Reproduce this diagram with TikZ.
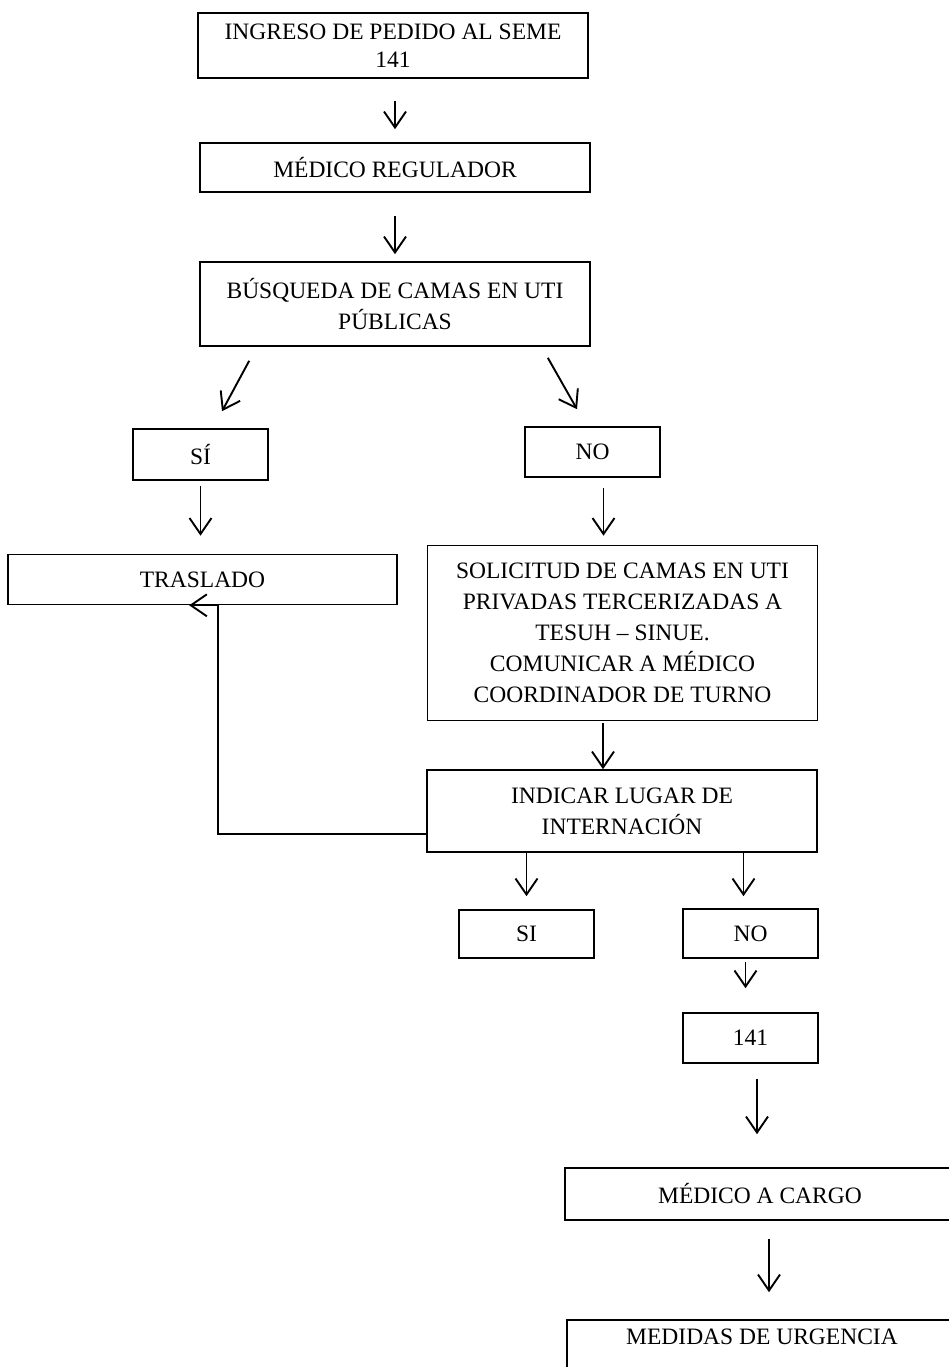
\documentclass[tikz,border=0pt]{standalone}
\usepackage{fontspec}
\setmainfont{Liberation Serif}
\usetikzlibrary{arrows.meta,calc}
\begin{document}
\begin{tikzpicture}[x=1pt,y=-1pt,
  box/.style={draw, line width=1.6pt, align=center, inner sep=0pt, font=\fontsize{23.5}{31}\selectfont},
  arr/.style={line width=1.9pt, -{Straight Barb[length=16pt,width=22pt,line width=1.9pt]}}]
\useasboundingbox (0,0) rectangle (948,1367);
\fill[white] (0,0) rectangle (948,1367);

\node[box, minimum width=390pt, minimum height=65pt] (b1) at (393,45.5) {INGRESO DE PEDIDO AL SEME\\[-3pt]141};
\node[box, minimum width=390pt, minimum height=49pt] (b2) at (395,167.5) {MÉDICO REGULADOR};
\node[box, minimum width=390pt, minimum height=84pt] (b3) at (395,304) {BÚSQUEDA DE CAMAS EN UTI\\PÚBLICAS};
\node[box, minimum width=135pt, minimum height=51pt] (si1) at (200.5,454.5) {SÍ};
\node[box, minimum width=135pt, minimum height=50pt] (no1) at (592.5,452) {NO};
\node[box, minimum width=389pt, minimum height=50pt] (tr) at (202.5,579.5) {TRASLADO};
\node[box, minimum width=390pt, minimum height=175pt] (sol) at (622.5,633) {SOLICITUD DE CAMAS EN UTI\\PRIVADAS TERCERIZADAS A\\TESUH – SINUE.\\COMUNICAR A MÉDICO\\COORDINADOR DE TURNO};
\node[box, minimum width=390pt, minimum height=82pt] (ind) at (622,811) {INDICAR LUGAR DE\\INTERNACIÓN};
\node[box, minimum width=135pt, minimum height=48pt] (si2) at (526.5,934) {SI};
\node[box, minimum width=135pt, minimum height=49pt] (no2) at (750.5,933.5) {NO};
\node[box, minimum width=135pt, minimum height=50pt] (n141) at (750.5,1038) {141};
\node[box, minimum width=390pt, minimum height=52pt] (mac) at (760,1194) {MÉDICO A CARGO};
\node[box, minimum width=390pt, minimum height=52pt, text depth=19pt] (med) at (762,1346) {MEDIDAS DE URGENCIA};

\draw[arr, shorten <=22pt, shorten >=13pt] (b1.south -| b2.north) -- (b2.north);
\draw[arr, shorten <=23pt, shorten >=7pt] (b2.south) -- (b3.north);
\draw[arr] ($(b3.south west)+(50,14)$) -- ($(si1.north)+(21.5,-17)$);
\draw[arr] ($(b3.south east)+(-43,11)$) -- ($(no1.north)+(-15.5,-17)$);
\draw[arr, shorten <=5pt, shorten >=18pt] (si1.south) -- (si1.south |- tr.north);
\coordinate (nsa) at ($(no1.south)+(11,0)$);
\draw[arr, shorten <=10pt, shorten >=9pt] (nsa) -- (nsa |- sol.north);
\coordinate (sia) at ($(sol.south)+(-19.5,0)$);
\draw[arr, shorten <=2pt] (sia) -- (sia |- ind.north);
\draw[arr] ($(ind.south west)+(0,-19)$) -| ($(tr.south west)+(211,0)$) -- ($(tr.south west)+(182,0)$);
\draw[arr, shorten >=13pt] (si2.north |- ind.south) -- (si2.north);
\coordinate (nna) at ($(no2.north)+(-7,0)$);
\draw[arr, shorten >=12pt] (nna |- ind.south) -- (nna);
\coordinate (n1a) at ($(no2.south)+(-5,0)$);
\draw[arr, shorten <=3pt, shorten >=24pt] (n1a) -- (n1a |- n141.north);
\coordinate (m1) at ($(n141.south)+(6.5,0)$);
\draw[arr, shorten <=15pt, shorten >=33pt] (m1) -- (m1 |- mac.north);
\coordinate (m2) at ($(mac.south)+(9,0)$);
\draw[arr, shorten <=18pt, shorten >=27pt] (m2) -- (m2 |- med.north);
\end{tikzpicture}
\end{document}
